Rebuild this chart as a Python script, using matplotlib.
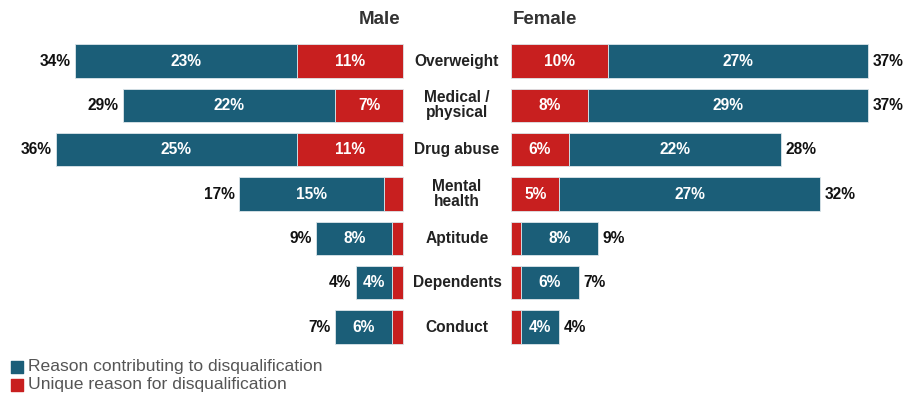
import matplotlib
matplotlib.use("Agg")
from matplotlib import pyplot as plt
import numpy as np

plt.rcParams['font.family'] = ['Liberation Sans', 'DejaVu Sans']

categories = ["Overweight", "Medical /\nphysical", "Drug abuse", "Mental\nhealth",
              "Aptitude", "Dependents", "Conduct"]

# percent values
male_contrib = [23, 22, 25, 15, 7.9, 3.8, 5.9]
male_unique = [11, 7, 11, 2, 1.1, 1.1, 1.1]
female_unique = [10, 8, 6, 5, 1, 1, 1]
female_contrib = [27, 29, 22, 27, 8, 6, 4]

male_contrib_lbl = ["23%", "22%", "25%", "15%", "8%", "4%", "6%"]
male_unique_lbl = ["11%", "7%", "11%", "", "", "", ""]
male_total_lbl = ["34%", "29%", "36%", "17%", "9%", "4%", "7%"]
female_unique_lbl = ["10%", "8%", "6%", "5%", "", "", ""]
female_contrib_lbl = ["27%", "29%", "22%", "27%", "8%", "6%", "4%"]
female_total_lbl = ["37%", "37%", "28%", "32%", "9%", "7%", "4%"]

TEAL = "#1b5e78"
RED = "#c81f1f"
gap = 5.6  # half of the space kept for category labels

fig = plt.figure(figsize=(9.04, 3.94), dpi=100)
ax = fig.add_axes([0, 0, 1, 1])
ax.set_xlim(-47.36, 46.32)
ax.set_ylim(7.51, -1.376)
ax.axis("off")

y = np.arange(len(categories))
h = 0.75
mc = np.array(male_contrib)
mu = np.array(male_unique)
fu = np.array(female_unique)
fc = np.array(female_contrib)

ax.barh(y, -mu, left=-gap, height=h, color=RED, edgecolor="#dde6ea", linewidth=0.6)
ax.barh(y, -mc, left=-gap - mu, height=h, color=TEAL, edgecolor="#dde6ea", linewidth=0.6)
ax.barh(y, fu, left=gap, height=h, color=RED, edgecolor="#dde6ea", linewidth=0.6)
ax.barh(y, fc, left=gap + fu, height=h, color=TEAL, edgecolor="#dde6ea", linewidth=0.6)

fs = 11.2
for i in range(len(categories)):
    ax.text(-gap - mu[i] - mc[i] / 2, y[i], male_contrib_lbl[i], color="white",
            ha="center", va="center", fontsize=fs, fontweight="bold")
    if male_unique_lbl[i]:
        ax.text(-gap - mu[i] / 2, y[i], male_unique_lbl[i], color="white",
                ha="center", va="center", fontsize=fs, fontweight="bold")
    ax.text(-gap - mu[i] - mc[i] - 0.45, y[i], male_total_lbl[i], color="#111111",
            ha="right", va="center", fontsize=fs, fontweight="bold")
    if female_unique_lbl[i]:
        ax.text(gap + fu[i] / 2, y[i], female_unique_lbl[i], color="white",
                ha="center", va="center", fontsize=fs, fontweight="bold")
    ax.text(gap + fu[i] + fc[i] / 2, y[i], female_contrib_lbl[i], color="white",
            ha="center", va="center", fontsize=fs, fontweight="bold")
    ax.text(gap + fu[i] + fc[i] + 0.45, y[i], female_total_lbl[i], color="#111111",
            ha="left", va="center", fontsize=fs, fontweight="bold")
    ax.text(0, y[i], categories[i], color="#222222", ha="center", va="center",
            fontsize=fs, fontweight="bold", linespacing=1.0)

ax.text(-gap - 0.3, -0.93, "Male", ha="right", va="center", fontsize=13.5,
        fontweight="bold", color="#333333")
ax.text(gap + 0.2, -0.93, "Female", ha="left", va="center", fontsize=13.5,
        fontweight="bold", color="#333333")

# legend
ax.scatter([-45.6], [6.91], marker="s", s=70, color=TEAL)
ax.scatter([-45.6], [7.31], marker="s", s=70, color=RED)
ax.text(-44.5, 6.9, "Reason contributing to disqualification", ha="left",
        va="center", fontsize=12.6, color="#555555")
ax.text(-44.5, 7.3, "Unique reason for disqualification", ha="left",
        va="center", fontsize=12.6, color="#555555")

plt.savefig("out.png", dpi=100)
